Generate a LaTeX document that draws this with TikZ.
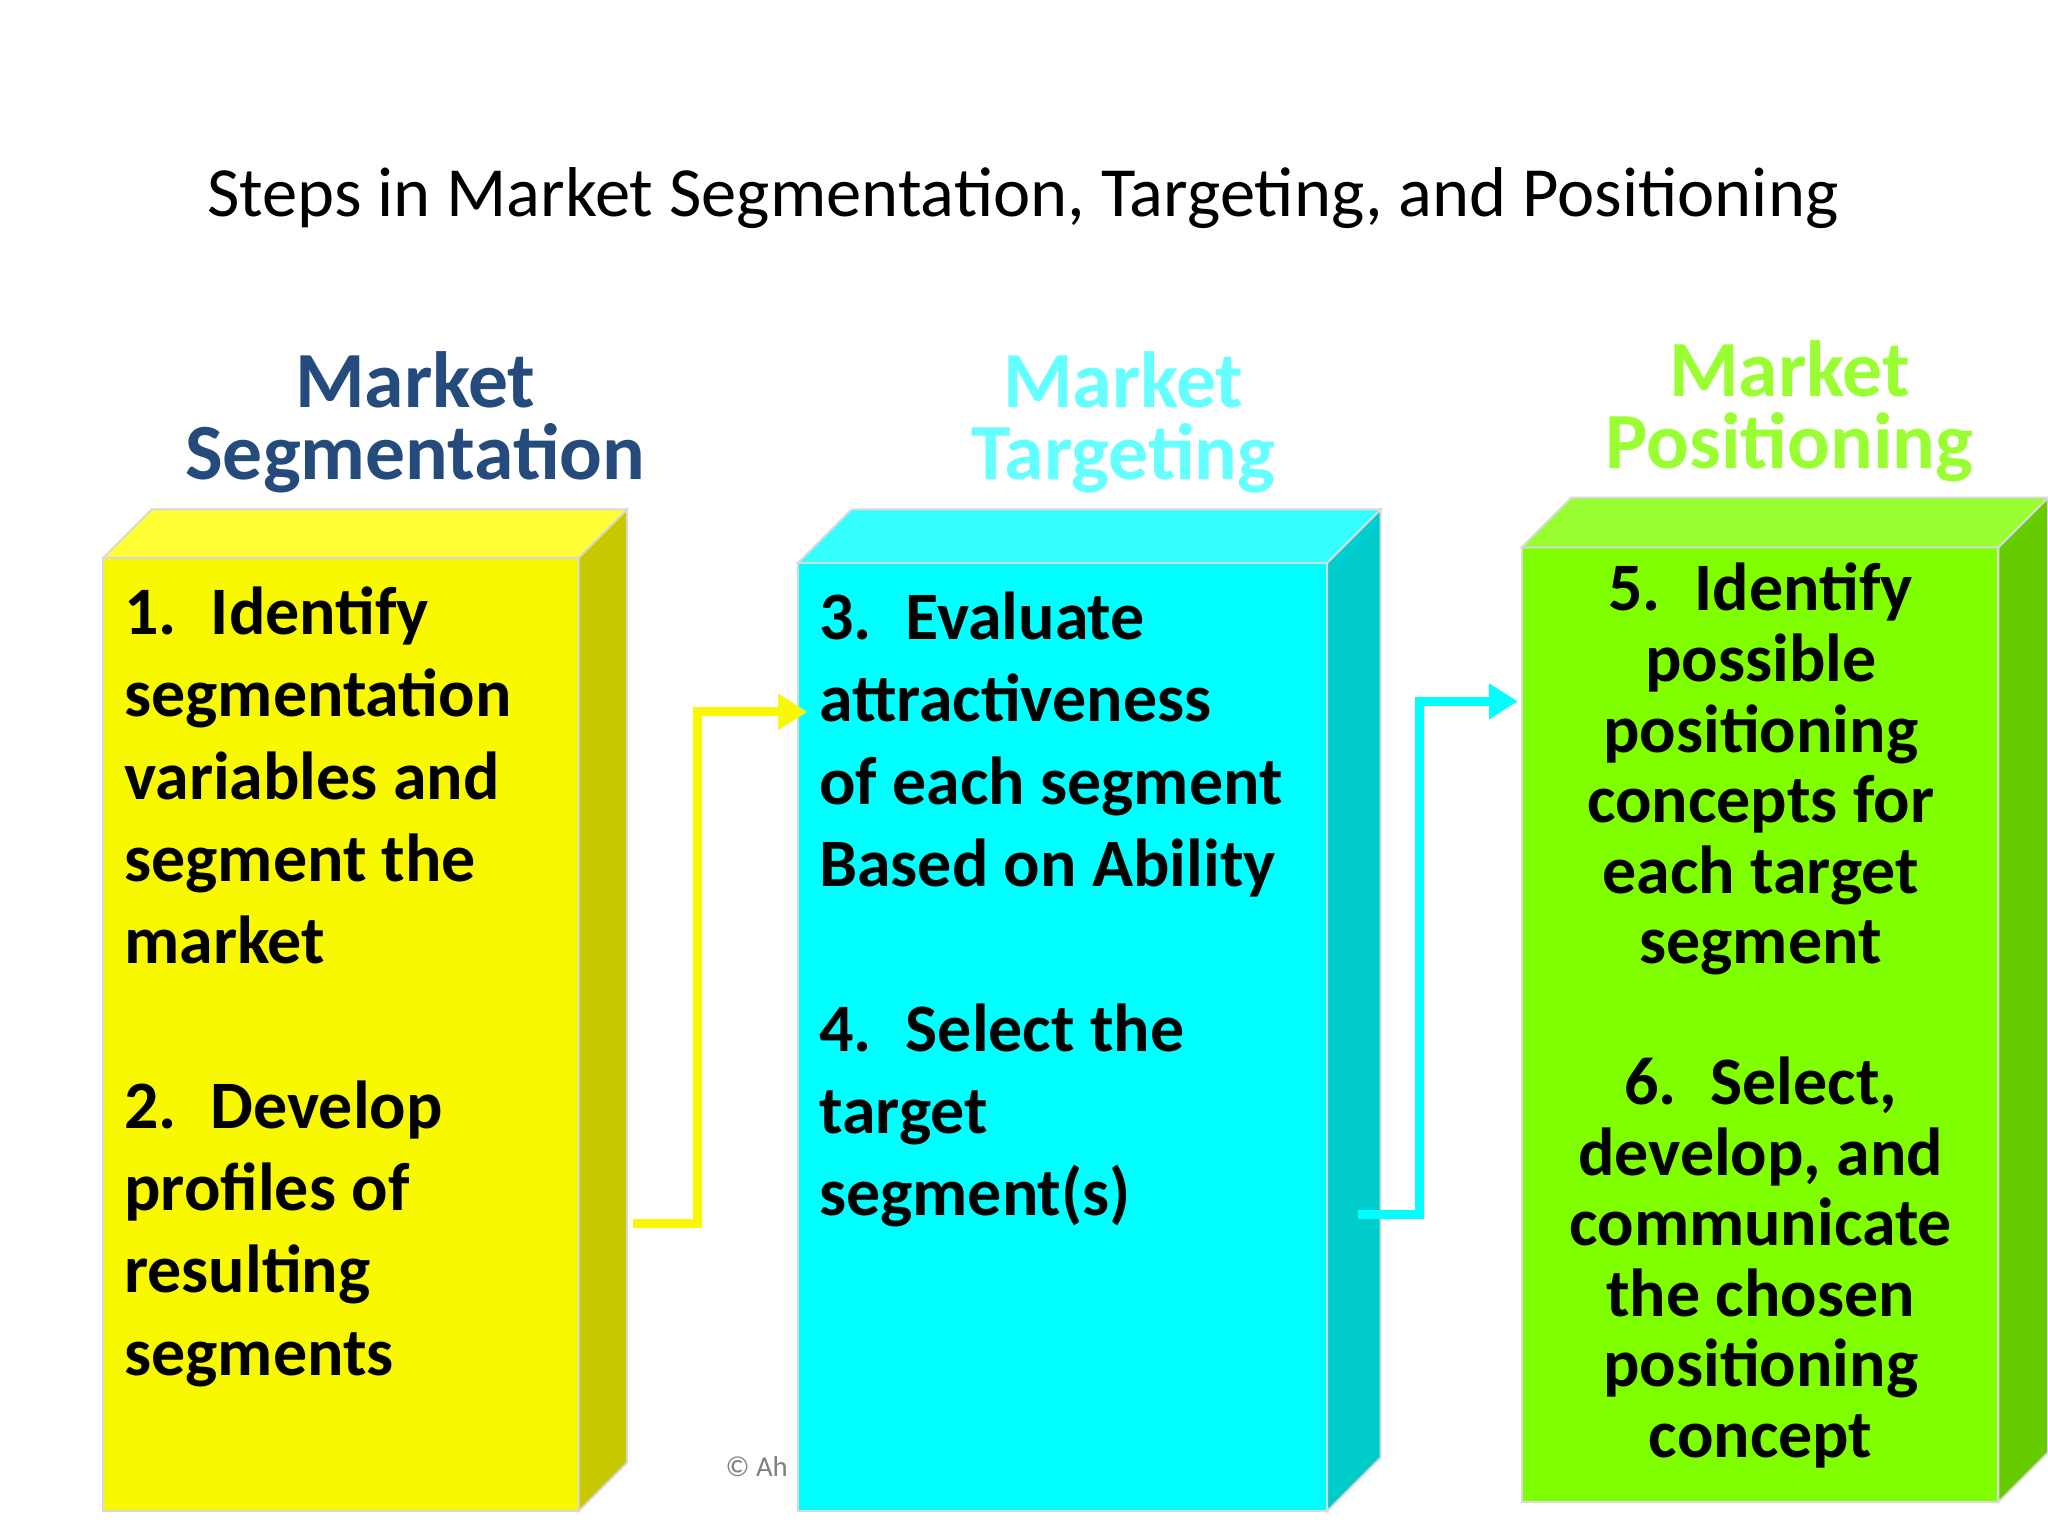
\documentclass[tikz,border=0pt]{standalone}
\usepackage{fontspec}
\setmainfont{Carlito}
\usetikzlibrary{arrows.meta}
\definecolor{yfront}{HTML}{F8F800}\definecolor{yside}{HTML}{C8C800}\definecolor{ytop}{HTML}{FFFF33}
\definecolor{cfront}{HTML}{00FFFF}\definecolor{cside}{HTML}{00CCCC}\definecolor{ctop}{HTML}{33FFFF}
\definecolor{gfront}{HTML}{80FF00}\definecolor{gside}{HTML}{66CC00}\definecolor{gtop}{HTML}{99FF33}
\definecolor{hblue}{HTML}{254A7C}\definecolor{hcyan}{HTML}{66FFFF}\definecolor{hgreen}{HTML}{99FF33}
\tikzset{
 edge/.style={draw=white!85!black,line width=1.5pt},
 head/.style={font=\fontsize{61}{55}\selectfont\bfseries,align=center},
 boxtxt/.style={font=\fontsize{52}{63}\selectfont\bfseries,inner sep=0pt},
 flow/.style={line width=7pt,-{Triangle[length=22pt,width=26pt]}}
}
\newcommand{\boxdraw}[8]{% x1 y1 x2 y2 d front side top
 \fill[#6,edge] (#1,#2) rectangle (#3,#4);
 \fill[#7,edge] (#3,#2) -- (#3+#5,#2-#5) -- (#3+#5,#4-#5) -- (#3,#4) -- cycle;
 \fill[#8,edge] (#1,#2) -- (#1+#5,#2-#5) -- (#3+#5,#2-#5) -- (#3,#2) -- cycle;}
\begin{document}
\begin{tikzpicture}[x=1pt,y=-1pt]
\useasboundingbox (0,0) rectangle (1568,1176);
\fill[white] (0,0) rectangle (1568,1176);
\node[font=\fontsize{54}{56}\selectfont] (title) at (783,152) {Steps in Market Segmentation, Targeting, and Positioning};
\node[head,text=hblue] (h1) at (318,323) {Market\\Segmentation};
\node[head,text=hcyan] (h2) at (860,323) {Market\\Targeting};
\node[head,text=hgreen] (h3) at (1370,315) {Market\\Positioning};
\node[text=gray,font=\fontsize{22}{24}\selectfont,anchor=west] (cr) at (552,1123) {© Ah};
\boxdraw{79}{427}{443}{1157}{37}{yfront}{yside}{ytop}
\boxdraw{611}{431}{1016}{1157}{41}{cfront}{cside}{ctop}
\boxdraw{1165}{419}{1530}{1150}{38}{gfront}{gside}{gtop}
\node[boxtxt,anchor=north west,align=left] (t1) at (95,449) {1.\enspace Identify\\segmentation\\variables and\\segment the\\market\\[63pt]2.\enspace Develop\\profiles of\\resulting\\segments};
\node[boxtxt,anchor=north west,align=left] (t2) at (627,453) {3.\enspace Evaluate\\attractiveness\\of each segment\\Based on Ability\\[63pt]4.\enspace Select the\\target\\segment(s)};
\node[boxtxt,anchor=north,align=center,font=\fontsize{52}{54}\selectfont\bfseries] (t3) at (1348,431) {5.\enspace Identify\\possible\\positioning\\concepts for\\each target\\segment\\[54pt]6.\enspace Select,\\develop, and\\communicate\\the chosen\\positioning\\concept};
\coordinate (a0) at (485,937); \coordinate (a1) at (534,937); \coordinate (a2) at (534,545); \coordinate (a3) at (618,545);
\draw[flow,draw=white!88!black,shift={(4,4)}] (a0) -- (a1) -- (a2) -- (a3);
\draw[flow,draw=yfront] (a0) -- (a1) -- (a2) -- (a3);
\coordinate (b0) at (1040,930); \coordinate (b1) at (1087,930); \coordinate (b2) at (1087,537); \coordinate (b3) at (1162,537);
\draw[flow,draw=white!88!black,shift={(4,4)}] (b0) -- (b1) -- (b2) -- (b3);
\draw[flow,draw=cfront] (b0) -- (b1) -- (b2) -- (b3);
\end{tikzpicture}
\end{document}
